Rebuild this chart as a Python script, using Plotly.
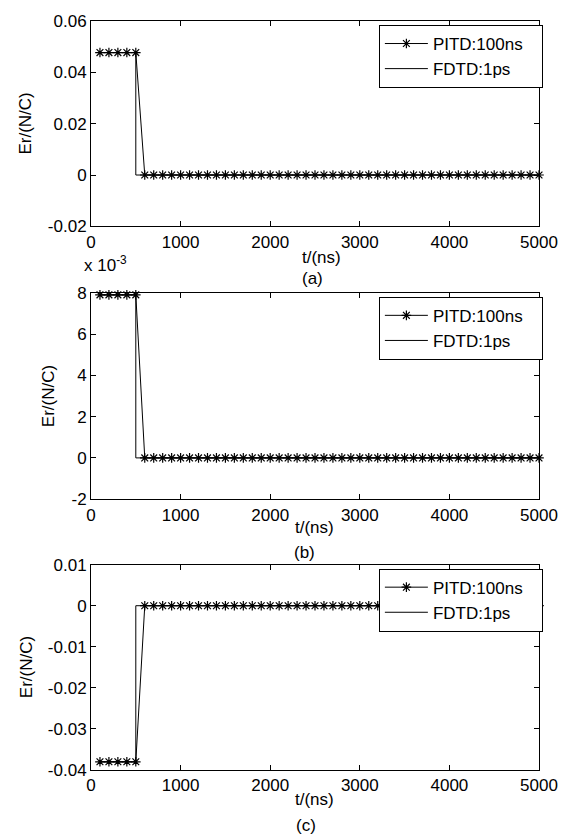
import plotly.graph_objects as go

# ---------------- data ----------------
t_pitd = [100, 200, 300, 400, 500, 600, 700, 800, 900, 1000,
          1100, 1200, 1300, 1400, 1500, 1600, 1700, 1800, 1900, 2000,
          2100, 2200, 2300, 2400, 2500, 2600, 2700, 2800, 2900, 3000,
          3100, 3200, 3300, 3400, 3500, 3600, 3700, 3800, 3900, 4000,
          4100, 4200, 4300, 4400, 4500, 4600, 4700, 4800, 4900, 5000]
t_fdtd = [100, 500, 5000]

pitd_a = [0.0477] * 5 + [0.0] * 45
fdtd_a = [0.0477, 0.0, 0.0]
pitd_b = [0.0079] * 5 + [0.0] * 45
fdtd_b = [0.0079, 0.0, 0.0]
pitd_c = [-0.038] * 5 + [0.0] * 45
fdtd_c = [-0.038, 0.0, 0.0]

x_ticks = [0, 1000, 2000, 3000, 4000, 5000]
x_ticktext = ["0", "1000", "2000", "3000", "4000", "5000"]
ya_ticks = [-0.02, 0, 0.02, 0.04, 0.06]
ya_text = ["-0.02", "0", "0.02", "0.04", "0.06"]
yb_ticks = [-0.002, 0, 0.002, 0.004, 0.006, 0.008]
yb_text = ["-2", "0", "2", "4", "6", "8"]
yc_ticks = [-0.04, -0.03, -0.02, -0.01, 0, 0.01]
yc_text = ["-0.04", "-0.03", "-0.02", "-0.01", "0", "0.01"]

# ---------------- layout geometry (pixels) ----------------
W, H = 570, 838
ML, MR, MT, MB = 91, 18, 15, 68
PW, PH = W - ML - MR, H - MT - MB


def fx(px):
    return (px - ML) / PW


def fy(py):
    return (H - MB - py) / PH


FONT = "Arial, Liberation Sans, sans-serif"
FS = 17
NB = "\u00a0"

panels = [
    dict(top=15, bot=222, pitd=pitd_a, fdtd=fdtd_a, yr=[-0.02, 0.06], yt=ya_ticks, ytt=ya_text,
         lab="(a)", tx=328, ty=253, lx=319, ly=275, ylx=24),
    dict(top=289, bot=497, pitd=pitd_b, fdtd=fdtd_b, yr=[-0.002, 0.008], yt=yb_ticks, ytt=yb_text,
         lab="(b)", tx=321, ty=526, lx=311, ly=551, ylx=48),
    dict(top=563, bot=770, pitd=pitd_c, fdtd=fdtd_c, yr=[-0.04, 0.01], yt=yc_ticks, ytt=yc_text,
         lab="(c)", tx=321, ty=800, lx=312, ly=826, ylx=24),
]

fig = go.Figure()
annotations = []
layout = dict(
    width=W, height=H,
    margin=dict(l=ML, r=MR, t=MT, b=MB, pad=0),
    paper_bgcolor="white", plot_bgcolor="white",
    font=dict(family=FONT, size=FS, color="black"),
    showlegend=True,
)

for i, p in enumerate(panels):
    n = "" if i == 0 else str(i + 1)
    xa, ya = "x" + n, "y" + n
    lg = "legend" + n
    fig.add_trace(go.Scatter(
        x=t_pitd, y=p["pitd"], mode="lines+markers", name="PITD:100ns" + NB * 3,
        line=dict(color="black", width=1), cliponaxis=False,
        marker=dict(symbol="asterisk-open", size=8, color="black", line=dict(color="black", width=1.2)),
        xaxis=xa, yaxis=ya, legend=lg))
    fig.add_trace(go.Scatter(
        x=t_fdtd, y=p["fdtd"], mode="lines", name="FDTD:1ps",
        line=dict(color="black", width=1, shape="hv"),
        xaxis=xa, yaxis=ya, legend=lg))

    axcommon = dict(showline=True, linecolor="black", linewidth=1, mirror="ticks",
                    ticks="inside", ticklen=5, tickcolor="black", tickwidth=1,
                    showgrid=False, zeroline=False, ticklabeloverflow="allow",
                    tickfont=dict(family=FONT, size=FS, color="black"))
    layout["xaxis" + n] = dict(axcommon, domain=[0, 1], range=[0, 5000], anchor=ya,
                               tickmode="array", tickvals=x_ticks, ticktext=x_ticktext)
    layout["yaxis" + n] = dict(axcommon, domain=[fy(p["bot"]), fy(p["top"])], range=p["yr"], anchor=xa,
                               tickmode="array", tickvals=p["yt"], ticktext=p["ytt"])
    layout[lg] = dict(x=fx(556), y=fy(p["top"] + 4), xanchor="right", yanchor="top",
                      bgcolor="white", bordercolor="black", borderwidth=1, itemwidth=43,
                      font=dict(family=FONT, size=FS, color="black"), tracegroupgap=0)

    annotations.append(dict(text="t/(ns)", x=fx(p["tx"]), y=fy(p["ty"]), xref="paper", yref="paper",
                            xanchor="center", yanchor="middle", showarrow=False,
                            font=dict(family=FONT, size=FS, color="black")))
    annotations.append(dict(text=p["lab"], x=fx(p["lx"]), y=fy(p["ly"]), xref="paper", yref="paper",
                            xanchor="center", yanchor="middle", showarrow=False,
                            font=dict(family=FONT, size=FS, color="black")))
    annotations.append(dict(text="Er/(N/C)", x=fx(p["ylx"]), y=fy((p["top"] + p["bot"]) / 2),
                            xref="paper", yref="paper", xanchor="center", yanchor="middle",
                            textangle=-90, showarrow=False,
                            font=dict(family=FONT, size=FS, color="black")))

annotations.append(dict(text="x 10<sup>-3</sup>", x=fx(82), y=fy(273), xref="paper", yref="paper",
                        xanchor="left", yanchor="bottom", showarrow=False,
                        font=dict(family=FONT, size=FS, color="black")))
layout["annotations"] = annotations
fig.update_layout(**layout)
fig.write_html("out.html", config={"displayModeBar": False},
               post_script="document.body.style.margin='0';document.body.style.overflow='hidden';")
